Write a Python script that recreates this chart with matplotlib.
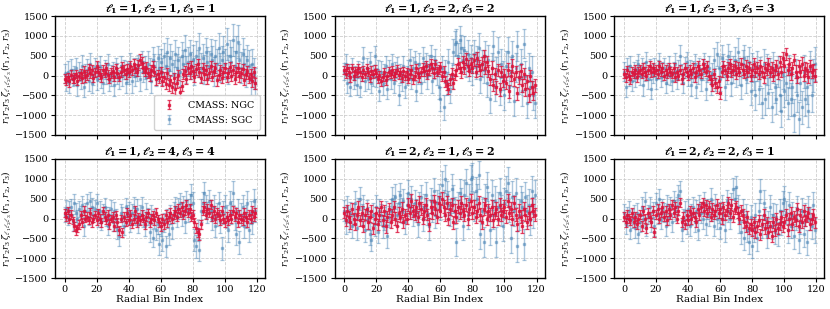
import numpy as np
import matplotlib
matplotlib.use("Agg")
import matplotlib.pyplot as plt

plt.rcParams['font.family'] = ['DejaVu Serif']
plt.rcParams['mathtext.fontset'] = 'dejavuserif'

bins = list(range(120))
titles = [r"$\mathbf{\ell_1 = 1, \ell_2 = 1, \ell_3 = 1}$",
          r"$\mathbf{\ell_1 = 1, \ell_2 = 2, \ell_3 = 2}$",
          r"$\mathbf{\ell_1 = 1, \ell_2 = 3, \ell_3 = 3}$",
          r"$\mathbf{\ell_1 = 1, \ell_2 = 4, \ell_3 = 4}$",
          r"$\mathbf{\ell_1 = 2, \ell_2 = 1, \ell_3 = 2}$",
          r"$\mathbf{\ell_1 = 2, \ell_2 = 2, \ell_3 = 1}$"]
labels = ["CMASS: NGC", "CMASS: SGC"]

ngc_111 = [-80,-120,-40,-150,20,-90,-60,40,-130,-20, 60,-70,120,-40,10,180,60,150,-60,80,
           240,100,30,-50,140,70,200,20,-80,60, 120,-30,180,60,-40,90,220,140,30,170,
           80,230,130,300,180,90,260,400,320,180, 120,200,60,-20,140,240,100,-100,30,-60,
           80,-150,-40,-220,60,-250,-120,-300,-60,-350, -180,20,-420,-260,40,110,-80,180,60,240,
           120,-40,160,300,80,-60,200,30,140,-90, 60,240,-30,110,180,-120,20,140,-60,80,
           190,-40,60,220,0,130,-80,90,200,-20, 60,160,-110,40,120,-60,30,-150,80,-200]
sgc_111 = [50,-150,100,-200,150,-50,0,200,-250,100, -100,250,-300,50,150,-150,300,-200,0,200,
           -100,100,250,-50,-200,150,50,300,-150,0, 100,-250,200,50,-100,250,0,150,-200,100,
           50,300,-150,200,0,150,250,-100,350,100, 200,-50,300,150,-150,400,250,50,450,200,
           350,100,500,250,600,150,450,300,50,550, 200,400,100,500,300,650,150,350,550,250,
           400,100,500,300,700,200,450,150,600,350, 250,550,400,100,500,300,700,200,400,600,
           300,800,150,500,350,900,250,600,850,400, 200,550,300,100,400,250,-100,300,50,-200]
ngc_122 = [150,50,200,100,-50,180,0,120,60,200, 100,-40,150,30,180,80,-60,120,40,150,
           60,-100,20,-150,-50,80,-120,0,100,40, 130,-20,60,150,20,90,-60,120,0,80,
           -80,40,150,-100,0,180,60,-50,100,200, 120,250,30,150,300,180,60,280,100,160,
           220,-20,100,-150,-250,-330,-100,40,-200,20, 140,300,200,80,350,180,420,250,120,300,
           200,380,100,450,250,150,300,500,200,350, 120,-100,200,-250,50,-300,150,-350,100,-150,
           20,-200,150,-400,0,250,-100,100,-450,-50, 120,-250,50,-350,-150,-500,0,-300,-450,-250]
sgc_122 = [100,300,-200,50,-300,200,-100,0,-250,150, -300,100,450,-150,200,-100,350,-200,0,500,
           -50,150,-400,100,-250,50,250,-350,150,-100, 300,-200,100,200,-500,50,-150,250,-300,0,
           150,400,-100,200,350,-400,50,300,-200,450, 100,300,-50,250,500,-150,200,400,50,-300,
           -600,200,-800,100,-200,350,-400,0,600,800, 850,500,900,700,400,650,300,550,200,450,
           100,550,250,400,700,-100,300,150,500,-200, 400,-600,200,750,-300,100,600,-400,300,0,
           -500,250,600,-300,100,500,-650,200,750,-100, 300,-400,800,0,-700,200,-300,100,-500,-700]
ngc_133 = [50,-50,150,0,-100,100,50,150,-50,100, 150,50,200,100,0,150,250,80,200,100,
           150,50,250,100,200,0,150,50,200,100, 50,200,-50,100,0,150,-80,50,200,100,
           0,150,50,200,-50,100,250,150,50,300, 200,100,250,0,-100,-250,50,-200,-300,-150,
           -450,100,250,150,0,200,300,100,150,250, 50,200,100,300,150,50,250,100,200,0,
           150,300,100,200,50,250,100,-50,200,150, 300,100,200,0,150,250,50,350,100,450,
           250,550,150,300,50,200,400,100,-50,250, 100,300,0,200,150,-50,250,100,150,0]
sgc_133 = [100,-300,200,0,250,-150,100,-50,150,300, 0,200,-250,100,350,-100,150,-350,50,200,
           -100,150,300,-50,100,200,-200,50,250,0, -150,100,300,-100,150,500,50,-200,200,350,
           0,150,-250,100,300,-300,50,200,-100,150, 300,-350,100,200,-200,50,400,-100,550,200,
           -100,450,250,-300,100,500,300,-200,150,400, 50,600,100,-250,300,450,-100,150,350,-400,
           200,0,-500,250,-350,100,-700,300,-600,150, -450,50,-800,200,-300,-600,100,-500,-900,50,
           -400,-200,-700,100,-600,-300,-1000,0,-500,-1100, -200,-800,100,-600,-300,-900,200,-500,0,300]
ngc_144 = [150,50,200,0,100,-50,-200,-300,-250,-150, 100,-100,200,0,50,-50,150,-100,0,100,
           -50,150,0,-100,200,50,-50,100,-150,0, 50,-200,100,-100,-300,0,-350,50,-100,150,
           -50,100,-150,0,200,-100,50,-50,100,0, -150,50,150,-100,0,100,-50,150,0,-100,
           -200,0,-150,100,-100,50,150,0,100,200, 50,250,150,300,100,200,350,150,250,50,
           100,-100,-250,-350,-400,-150,200,300,100,250, 150,350,50,200,0,150,100,-50,200,0,
           -100,50,-50,100,0,200,50,150,-100,100, 0,-50,150,50,-100,100,0,200,50,150]
sgc_144 = [100,250,50,200,300,-100,400,150,0,250, 100,350,-200,200,400,50,450,300,100,250,
           400,0,200,-100,150,300,50,-200,100,250, -100,200,0,-300,-450,150,50,-200,300,100,
           200,-100,150,300,50,250,-150,100,300,0, -200,150,50,-350,100,-500,0,-300,-150,-650,
           -200,-550,-100,-700,0,-400,100,-250,150,300, 50,250,400,100,300,-100,450,200,350,600,
           400,-550,-700,-300,-800,200,400,650,300,150, 450,200,0,300,-200,100,400,-100,-750,150,
           300,50,-300,400,150,650,0,-400,200,-600, 100,300,-200,50,400,-300,150,-100,450,200]
ngc_212 = [150,-50,200,50,-100,250,0,-150,100,300, -50,150,-200,100,250,-100,50,200,-250,0,
           150,-150,100,300,-50,200,-200,50,250,-100, 100,300,0,-200,150,50,250,-100,100,0,
           350,150,450,200,100,300,50,400,250,0, 200,350,100,-150,300,150,450,250,50,400,
           200,500,300,100,400,0,250,350,-100,200, 50,300,150,400,200,100,350,0,250,450,
           150,300,50,200,400,100,-100,250,350,0, 200,100,300,-50,150,250,0,350,100,200,
           300,50,450,150,250,0,400,100,-150,200, 50,-200,250,100,-100,150,0,350,200,100]
sgc_212 = [200,-100,300,-50,150,-200,100,400,-250,250, 500,100,300,-300,200,0,-400,-550,100,-150,
           300,-350,200,100,-200,0,150,-450,50,200, 500,300,550,100,400,600,200,450,-100,350,
           650,300,500,100,400,200,-150,350,550,0, 300,600,150,-200,450,250,700,100,400,550,
           300,850,400,1000,600,350,150,750,500,200, -600,300,650,400,-200,600,900,100,500,1000,
           1050,300,700,500,1100,-400,200,-600,500,800, 300,-300,600,100,450,-600,300,650,200,-200,
           400,700,900,300,-500,550,200,650,-700,100, 450,300,-650,550,200,350,-50,700,150,600]
ngc_221 = [50,-100,100,0,-50,150,-100,50,-150,0, 100,-200,200,0,-250,150,50,-100,200,-350,
           100,250,0,150,300,50,200,-50,250,100, 350,150,300,0,200,400,-100,50,-150,100,
           -50,200,0,150,50,-100,250,100,300,400, 200,350,150,300,50,250,100,200,350,150,
           250,0,300,100,200,400,150,350,50,250, 300,150,0,200,100,-100,-200,50,-250,-150,
           -300,-100,-350,-200,-50,-400,-150,100,-250,-100, -350,-200,-450,-100,-300,0,-250,-150,50,-200,
           -100,100,-300,0,150,-150,50,-50,250,-200, 100,-100,200,-50,50,150,-150,0,100,-100]
sgc_221 = [150,-150,50,200,-300,0,100,-250,150,-400, -100,300,0,450,-200,100,300,-100,200,-200,
           400,100,500,-50,250,150,-200,350,50,300, -100,450,200,300,600,700,-300,0,200,-150,
           250,-200,100,300,-100,200,-300,350,150,0, 400,-150,250,100,500,200,-200,350,0,150,
           -250,300,100,-300,450,200,0,350,750,500, 800,300,-100,-350,200,-500,100,-300,-600,50,
           -700,-300,100,-500,200,700,-200,400,0,-450, -100,300,-200,100,-350,50,-400,200,-100,400,
           500,150,-300,350,-200,100,-450,0,250,-550, -100,200,-400,100,-600,250,0,-200,350,-300]

ngc_err = [[110,120,100,130,115,105,125,110,120,100, 115,125,110,120,130,105,115,125,110,120,
            125,115,130,110,120,105,125,115,110,120, 130,120,115,125,110,120,130,115,125,110,
            120,130,115,125,120,110,130,140,135,125, 120,130,125,115,135,125,120,130,115,125,
            130,125,135,120,130,140,125,135,130,140, 135,125,140,130,120,135,125,130,140,125,
            130,120,135,125,130,140,125,135,120,130, 125,135,120,130,125,135,130,120,135,125,
            130,125,135,120,130,125,140,130,125,135, 130,125,135,120,130,125,135,130,125,140],
           [100,110,95,105,110,100,105,95,110,100, 105,110,100,95,110,105,100,110,95,105,
            110,100,105,110,95,105,110,100,105,95, 110,105,100,110,105,95,110,100,105,110,
            110,115,105,120,110,115,120,110,115,120, 120,125,115,130,120,125,130,120,125,115,
            130,125,135,130,125,135,130,140,135,130, 140,135,145,140,135,145,150,140,145,135,
            145,150,140,155,145,150,155,145,150,140, 150,145,155,150,145,155,150,160,150,145,
            155,150,160,155,150,160,155,150,160,155, 160,155,150,165,155,160,150,165,160,155],
           [110,120,100,115,125,110,105,120,115,110, 120,110,125,115,105,120,115,125,110,120,
            115,125,110,120,115,105,125,115,120,110, 120,115,125,110,120,115,125,110,120,115,
            125,115,120,110,125,120,115,125,120,115, 120,125,115,120,125,130,120,125,130,140,
            150,130,125,120,125,130,125,135,130,125, 130,135,125,130,135,125,130,140,135,130,
            135,130,140,135,130,140,135,145,140,135, 140,145,135,140,145,140,150,145,140,150,
            150,155,145,150,160,150,145,155,150,145, 150,155,145,150,155,150,145,155,150,160],
           [100,110,95,105,110,100,105,110,95,105, 100,110,105,95,110,100,105,110,100,95,
            105,100,110,105,95,110,100,105,110,100, 105,110,100,105,110,100,110,105,100,110,
            105,110,100,105,110,105,100,110,105,100, 110,105,100,110,105,100,110,105,100,110,
            110,115,105,110,115,110,105,115,110,105, 115,110,120,115,110,120,115,110,120,115,
            120,115,125,120,130,115,120,125,115,120, 115,120,110,115,120,110,115,120,110,115,
            110,115,120,110,115,120,110,115,120,110, 115,120,110,115,120,110,115,120,110,115],
           [140,150,135,145,155,140,150,145,135,150, 145,155,140,150,145,155,140,150,145,140,
            150,145,155,140,150,145,155,150,140,145, 150,145,155,140,150,145,155,150,140,145,
            155,150,160,150,145,155,150,160,155,150, 160,155,150,165,155,160,150,165,160,155,
            160,165,155,160,170,160,155,165,160,170, 165,160,170,165,160,170,165,175,160,165,
            170,165,175,160,170,165,175,170,165,170, 165,170,175,165,170,175,165,170,175,165,
            170,175,165,170,175,165,170,175,165,170, 175,165,170,175,165,170,175,165,170,175],
           [110,120,105,115,125,110,120,115,105,120, 115,125,110,120,115,125,110,120,115,110,
            120,115,125,110,120,115,125,120,110,115, 120,115,125,110,120,115,125,120,110,115,
            125,120,130,120,115,125,120,130,125,120, 130,125,120,135,125,130,120,135,130,125,
            130,135,125,130,140,130,125,135,130,140, 135,130,140,135,130,140,135,145,130,135,
            140,135,145,130,140,135,145,140,135,140, 135,140,145,135,140,145,135,140,145,135,
            140,145,135,140,145,135,140,145,135,140, 145,135,140,145,135,140,145,135,140,145]]

sgc_err = [[250,230,260,240,270,220,250,240,260,230, 240,260,250,230,270,240,260,250,230,250,
            260,240,250,270,230,250,260,240,250,270, 250,260,240,270,250,230,260,250,240,260,
            270,260,280,250,270,290,260,280,270,260, 300,280,310,290,300,320,290,310,300,330,
            320,340,330,310,350,330,340,320,350,340, 350,330,360,340,350,370,340,360,350,330,
            360,340,370,350,380,360,340,370,350,380, 360,380,350,370,390,360,380,370,350,390,
            380,400,370,390,380,410,370,400,420,390, 380,400,370,390,380,400,390,370,380,400],
           [220,240,230,250,220,240,230,250,240,220, 250,230,260,240,230,250,240,230,260,240,
            250,230,240,260,230,250,240,230,250,240, 230,250,240,260,250,230,240,250,260,240,
            250,260,240,270,260,250,270,260,250,280, 270,260,280,270,260,290,280,270,290,280,
            300,290,310,300,290,310,300,320,330,320, 330,320,340,330,320,340,330,350,340,330,
            340,350,330,350,360,340,350,340,360,350, 360,350,370,360,350,370,360,350,370,360,
            370,360,380,370,360,380,370,360,380,370, 360,380,370,360,380,370,360,380,370,380],
           [230,250,240,260,230,250,240,230,250,240, 250,240,260,230,250,240,260,250,240,230,
            240,250,260,240,230,250,240,260,250,240, 250,240,260,250,240,270,250,240,260,250,
            260,250,270,260,250,270,260,250,280,270, 270,280,260,290,280,270,290,280,300,290,
            300,310,300,320,310,300,320,310,330,320, 330,340,330,350,340,330,350,340,360,350,
            360,370,360,380,370,360,380,370,390,380, 380,390,380,400,390,380,400,390,410,400,
            400,410,400,420,410,400,420,410,430,420, 410,420,410,430,420,410,430,420,410,430],
           [200,220,210,230,200,220,210,230,220,200, 220,210,230,200,220,210,230,220,200,210,
            220,210,230,200,220,210,230,220,200,210, 220,210,230,220,240,210,230,220,210,230,
            220,230,210,240,220,230,210,240,230,220, 230,240,220,250,240,230,250,240,230,260,
            250,260,240,270,250,260,240,270,260,250, 260,270,250,280,260,270,250,280,270,260,
            270,280,290,270,280,290,270,280,290,270, 280,270,290,280,270,290,280,270,290,280,
            290,280,300,290,280,300,290,280,300,290, 280,290,300,280,290,300,280,290,300,290],
           [260,280,270,290,260,280,270,290,280,260, 290,270,300,280,270,290,280,270,300,280,
            290,280,300,270,290,280,300,290,270,280, 300,290,310,280,300,290,310,300,280,290,
            310,300,320,290,310,300,320,310,300,320, 320,330,310,340,320,330,310,340,330,320,
            340,350,330,360,340,350,330,360,350,340, 350,360,340,370,350,360,340,370,360,350,
            360,370,350,380,360,370,350,380,370,360, 370,360,380,370,360,380,370,360,380,370,
            380,370,390,380,370,390,380,370,390,380, 370,380,390,370,380,390,370,380,390,380],
           [220,240,230,250,220,240,230,250,240,220, 240,230,250,220,240,230,250,240,220,230,
            240,230,250,220,240,230,250,240,220,230, 250,240,260,230,250,240,260,250,230,240,
            250,240,260,250,240,260,250,240,270,260, 260,270,250,280,260,270,250,280,270,260,
            270,280,260,290,270,280,260,290,280,270, 280,290,270,300,280,290,270,300,290,280,
            290,300,280,310,290,300,280,310,300,290, 300,290,310,300,290,310,300,290,310,300,
            310,300,320,310,300,320,310,300,320,310, 300,310,320,300,310,320,300,310,320,310]]

ngc_vals = [ngc_111, ngc_122, ngc_133, ngc_144, ngc_212, ngc_221]
sgc_vals = [sgc_111, sgc_122, sgc_133, sgc_144, sgc_212, sgc_221]

ngc_color = '#dc143c'
sgc_color = '#4682b4'

fig = plt.figure(figsize=(8.3, 3.09), dpi=100)
lefts = [55/830, 334.5/830, 614.4/830]
bottoms = [(309-135)/309, (309-278)/309]
w = 210/830
h = 119/309
axes = []
for r in range(2):
    for c in range(3):
        ax = fig.add_axes([lefts[c], bottoms[r], w, h])
        axes.append(ax)

for i, ax in enumerate(axes):
    ax.grid(True, color='#c8c8c8', linestyle='--', linewidth=0.6, alpha=0.9)
    ax.set_axisbelow(True)
    ax.errorbar(bins, sgc_vals[i], yerr=sgc_err[i], fmt='s', ms=1.5, color=sgc_color,
                ecolor=sgc_color, elinewidth=1.0, capsize=1.7, capthick=0.9, alpha=0.45,
                label=labels[1], zorder=2)
    ax.errorbar(bins, ngc_vals[i], yerr=ngc_err[i], fmt='s', ms=1.5, color=ngc_color,
                ecolor=ngc_color, elinewidth=1.0, capsize=1.7, capthick=0.9, alpha=0.8,
                label=labels[0], zorder=3)
    ax.set_ylim(-1500, 1500)
    ax.set_xlim(-5.95, 124.95)
    ax.set_xticks([0, 20, 40, 60, 80, 100, 120])
    ax.set_yticks([-1500, -1000, -500, 0, 500, 1000, 1500])
    ax.tick_params(labelsize=7, length=3, width=0.8, pad=2)
    ax.set_title(titles[i], fontsize=8, pad=2)
    ax.set_ylabel(r"$r_1 r_2 r_3\, \zeta_{\ell_1 \ell_2 \ell_3}(r_1, r_2, r_3)$", fontsize=6.6, labelpad=1)
    for s in ax.spines.values():
        s.set_linewidth(1.0)
    if i < 3:
        ax.set_xticklabels([])
    else:
        ax.set_xlabel("Radial Bin Index", fontsize=7.5, labelpad=0.5)

h_, l_ = axes[0].get_legend_handles_labels()
axes[0].legend(h_[::-1], l_[::-1], loc='lower right', fontsize=6.8, framealpha=0.9,
               borderpad=0.6, handletextpad=1.0, labelspacing=0.6)

fig.savefig("out.png", dpi=100)
